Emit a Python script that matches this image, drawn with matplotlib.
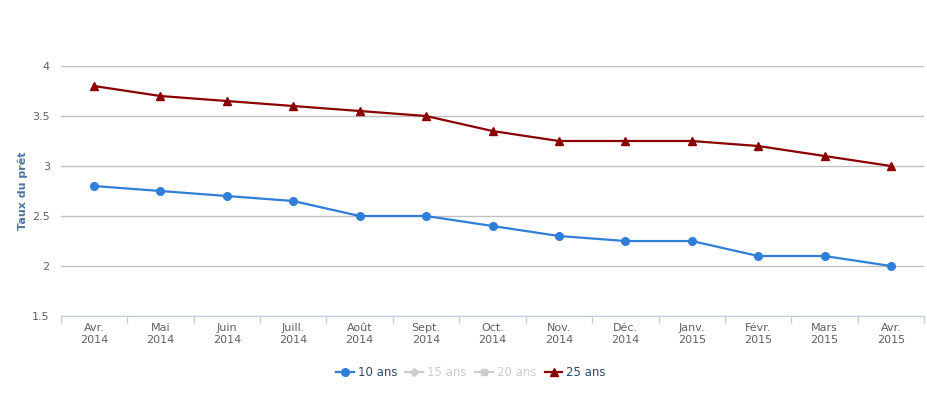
import matplotlib.pyplot as plt
import numpy as np
from matplotlib.lines import Line2D

# données
mois = ["Avr.\n2014", "Mai\n2014", "Juin\n2014", "Juill.\n2014", "Août\n2014",
        "Sept.\n2014", "Oct.\n2014", "Nov.\n2014", "Déc.\n2014", "Janv.\n2015",
        "Févr.\n2015", "Mars\n2015", "Avr.\n2015"]
taux_10 = [2.8, 2.75, 2.7, 2.65, 2.5, 2.5, 2.4, 2.3, 2.25, 2.25, 2.1, 2.1, 2.0]
taux_25 = [3.8, 3.7, 3.65, 3.6, 3.55, 3.5, 3.35, 3.25, 3.25, 3.25, 3.2, 3.1, 3.0]
yticks = [1.5, 2, 2.5, 3, 3.5, 4]

bleu = "#2f7ed8"
rouge = "#8b0000"
gris = "#cccccc"

fig = plt.figure(figsize=(9.27, 3.96), dpi=100)
ax = fig.add_axes([0.0656, 0.202, 0.9314, 0.6313])

x = np.arange(len(mois))
ax.plot(x, taux_10, color=bleu, lw=1.6, marker="o", ms=5.5, zorder=3)
ax.plot(x, taux_25, color=rouge, lw=1.6, marker="^", ms=5.5, zorder=3)

ax.set_xlim(-0.5, len(mois) - 0.5)
ax.set_ylim(1.5, 4)
ax.set_yticks(yticks)
ax.set_yticklabels([f"{v:g}" for v in yticks], fontsize=8, color="#606060")
ax.grid(axis="y", color="#c0c0c0", lw=1)
ax.tick_params(axis="y", length=0, pad=8)

ax.set_xticks(x)
ax.set_xticklabels(mois, fontsize=8, color="#606060", linespacing=1.3)
ax.tick_params(axis="x", which="major", length=0, pad=5)
ax.set_xticks(np.arange(-0.5, len(mois)), minor=True)
ax.tick_params(axis="x", which="minor", length=5, color="#c0d0e0", width=1)

for s in ["top", "right", "left"]:
    ax.spines[s].set_visible(False)
ax.spines["bottom"].set_color("#c0d0e0")
ax.set_axisbelow(True)

ax.set_ylabel("Taux du prêt", fontsize=8, fontweight="bold", color="#4d759e", labelpad=3)

handles = [
    Line2D([], [], color=bleu, lw=1.6, marker="o", ms=5.5),
    Line2D([], [], color=gris, lw=1.6, marker="D", ms=4.5),
    Line2D([], [], color=gris, lw=1.6, marker="s", ms=5),
    Line2D([], [], color=rouge, lw=1.6, marker="^", ms=5.5),
]
leg = fig.legend(handles, ["10 ans", "15 ans", "20 ans", "25 ans"], loc="center",
                 bbox_to_anchor=(0.508, 0.06), ncol=4, frameon=False, fontsize=8.5,
                 handlelength=1.5, handletextpad=0.35, columnspacing=0.7)
for txt, c in zip(leg.get_texts(), ["#274b6d", gris, gris, "#274b6d"]):
    txt.set_color(c)

fig.savefig("out.png", dpi=100)
